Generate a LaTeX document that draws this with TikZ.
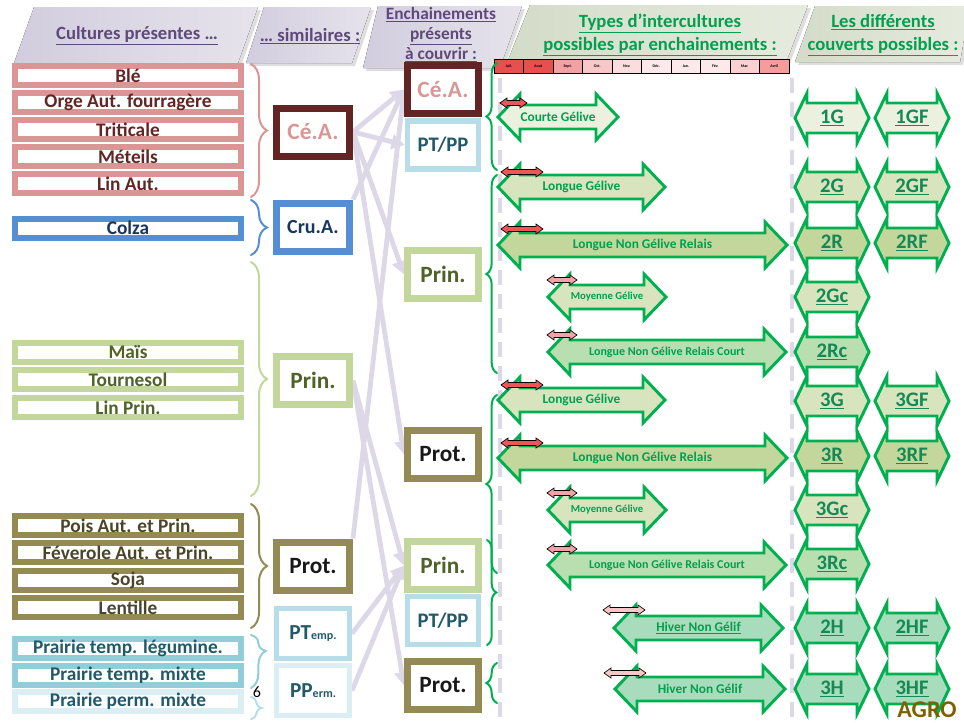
\documentclass[tikz,border=0pt]{standalone}
\usepackage{fontspec}
\setmainfont{Carlito}
\usetikzlibrary{arrows.meta}
\usetikzlibrary{decorations.pathreplacing}
\usetikzlibrary{calc}
\pgfdeclarelayer{flowbg}
\pgfsetlayers{flowbg,main}

\definecolor{cerealpink}{HTML}{D99694}
\definecolor{cerealbrown}{HTML}{632523}
\definecolor{colzablue}{HTML}{558ED5}
\definecolor{colzanavy}{HTML}{17375E}
\definecolor{prinlight}{HTML}{C3D69B}
\definecolor{prindark}{HTML}{4F6228}
\definecolor{protolive}{HTML}{948A54}
\definecolor{protdark}{HTML}{4A452A}
\definecolor{prairieA}{HTML}{92CDDC}
\definecolor{prairieB}{HTML}{B7DEE8}
\definecolor{prairieC}{HTML}{DBEEF4}
\definecolor{prairietext}{HTML}{215968}
\definecolor{titlepurple}{HTML}{5F497A}
\definecolor{titlegreen}{HTML}{00A050}
\definecolor{covgreen}{HTML}{138A55}
\definecolor{arrowgreen}{HTML}{00B050}
\definecolor{flowlav}{HTML}{DDD8E8}
\definecolor{tablavA}{HTML}{D2CDDE}
\definecolor{tablavB}{HTML}{E6E3EC}
\definecolor{tabgreenA}{HTML}{D3DCC8}
\definecolor{tabgreenB}{HTML}{E6EBDF}
\definecolor{agrogold}{HTML}{7F6000}
\definecolor{icA}{HTML}{EBF1DE}
\definecolor{icB}{HTML}{D7E4BD}
\definecolor{icC}{HTML}{C3D69B}
\definecolor{icD}{HTML}{B9DFB0}
\definecolor{icE}{HTML}{A9DCBC}
\definecolor{monRed}{HTML}{EE5555}
\definecolor{monPink}{HTML}{F3A3A3}
\definecolor{monLight}{HTML}{F7C6C6}
\definecolor{monA}{HTML}{E85050}
\definecolor{monB}{HTML}{F2A2A2}
\definecolor{monC}{HTML}{F8C8C8}
\definecolor{monD}{HTML}{FBDDDD}
\definecolor{monE}{HTML}{FDE9E9}
\definecolor{monF}{HTML}{FAD0D0}
\definecolor{monG}{HTML}{F59C9C}

\tikzset{
  cultbox/.style={draw, fill=white, line width=4.5pt, minimum width=169.5pt, minimum height=14.25pt, inner sep=0pt, font=\bfseries\fontsize{14.5}{14.5}\selectfont},
  simbox/.style={draw, fill=white, line width=5.25pt, minimum width=54.75pt, minimum height=36pt, inner sep=0pt, font=\bfseries\fontsize{17.5}{17.5}\selectfont},
  encbox/.style={draw, fill=white, line width=5.25pt, minimum width=53.25pt, minimum height=36pt, inner sep=0pt, font=\bfseries\fontsize{17.5}{17.5}\selectfont},
  tabshadow/.style={fill=black!13},
  lavtab/.style={left color=tablavA, right color=tablavB},
  greentab/.style={left color=tabgreenA, right color=tabgreenB},
  titletxt/.style={align=center, font=\bfseries\fontsize{14}{15}\selectfont},
  curly/.style={decorate, decoration={brace, amplitude=#1}, line width=1.5pt, line cap=round},
  flow/.style={draw=flowlav, line width=3.6pt, -{Triangle[length=10pt,width=11pt]}},
  dashsep/.style={draw=flowlav, line width=2.4pt, dash pattern=on 11pt off 7pt},
  icbody/.style={draw=arrowgreen, line width=2.2pt, line join=miter},
  ictext/.style={text=titlegreen, font=\bfseries\fontsize{10}{10}\selectfont, inner sep=0pt},
  covtext/.style={text=covgreen, font=\bfseries\fontsize{15.5}{15.5}\selectfont, inner sep=0pt},
  monbody/.style={draw=black, line width=0.5pt},
  moncell/.style={draw=black, line width=0.6pt, minimum width=22.125pt, minimum height=10.5pt, inner sep=0pt, font=\bfseries\fontsize{3}{3}\selectfont}
}

% interculture arrow: [style] name, left x, right x, y, fill, text
\newcommand{\icarrow}[7][]{%
  \path[icbody,fill=#6] (#3,#5) -- (#3+22,#5-23) -- (#3+22,#5-12) -- (#4-22,#5-12) -- (#4-22,#5-23) -- (#4,#5) -- (#4-22,#5+23) -- (#4-22,#5+12) -- (#3+22,#5+12) -- (#3+22,#5+23) -- cycle;
  \node[ictext,#1] (#2) at ({(#3+#4)/2},#5) {#7};}
% cover arrow: name, x, y, fill, text
\newcommand{\covarrow}[5]{%
  \path[icbody,fill=#4] (#2-37,#3) -- (#2-25,#3-25) -- (#2-25,#3-15) -- (#2+25,#3-15) -- (#2+25,#3-25) -- (#2+37,#3) -- (#2+25,#3+25) -- (#2+25,#3+15) -- (#2-25,#3+15) -- (#2-25,#3+25) -- cycle;
  \node[covtext] (#1) at (#2,#3) {\underline{#5}};}
% month arrow: left x, right x, y, fill
\newcommand{\monarrow}[4]{%
  \path[monbody,fill=#4] (#1,#3) -- (#1+7,#3-5) -- (#1+7,#3-2.5) -- (#2-7,#3-2.5) -- (#2-7,#3-5) -- (#2,#3) -- (#2-7,#3+5) -- (#2-7,#3+2.5) -- (#1+7,#3+2.5) -- (#1+7,#3+5) -- cycle;}

\begin{document}
\begin{tikzpicture}[x=0.75pt,y=-0.75pt]
\useasboundingbox (0,0) rectangle (964,722);

% Header tabs
\fill[tabshadow] (37,10) -- (261,10) -- (241,66) -- (17,66) -- cycle;
\fill[lavtab] (34,7) -- (258,7) -- (238,63) -- (14,63) -- cycle;
\fill[tabshadow] (267,10) -- (374,10) -- (355,66) -- (249,66) -- cycle;
\fill[lavtab] (264,7) -- (371,7) -- (352,63) -- (246,63) -- cycle;
\fill[tabshadow] (381,9) -- (525,9) -- (503,71) -- (366,71) -- cycle;
\fill[lavtab] (378,6) -- (522,6) -- (500,68) -- (363,68) -- cycle;
\fill[tabshadow] (533,8) -- (811,8) -- (790,63) -- (511,63) -- cycle;
\fill[greentab] (530,5) -- (808,5) -- (787,60) -- (508,60) -- cycle;
\fill[tabshadow] (818,9) -- (973,9) -- (963,65) -- (798,65) -- cycle;
\fill[greentab] (815,6) -- (970,6) -- (960,62) -- (795,62) -- cycle;

\node[titletxt, text=titlepurple] (tcult) at (137,36) {\underline{Cultures présentes …}};
\node[titletxt, text=titlepurple] (tsimil) at (310,36) {\underline{… similaires :}};
\node[titletxt, text=titlepurple, font=\bfseries\fontsize{13}{15}\selectfont] (tench) at (441,35) {\underline{Enchainements}\\\underline{présents}\\\underline{à couvrir :}};
\node[titletxt, text=titlegreen, font=\bfseries\fontsize{14}{17.5}\selectfont] (ttypes) at (660,35) {\underline{Types d’intercultures}\\\underline{possibles par enchainements :}};
\node[titletxt, text=titlegreen, font=\bfseries\fontsize{14}{17.5}\selectfont] (tcouv) at (883,35) {\underline{Les différents}\\\underline{couverts possibles :}};

% Months
\node[moncell, fill=monA] (mjuil) at (508.75,66) {Juil.};
\node[moncell, fill=monA] (maout) at (538.25,66) {Aout};
\node[moncell, fill=monB] (msept) at (567.75,66) {Sept.};
\node[moncell, fill=monC] (moct) at (597.25,66) {Oct.};
\node[moncell, fill=monD] (mnov) at (626.75,66) {Nov.};
\node[moncell, fill=monE] (mdec) at (656.25,66) {Déc.};
\node[moncell, fill=monE] (mjan) at (685.75,66) {Jan.};
\node[moncell, fill=monE] (mfev) at (715.25,66) {Fév.};
\node[moncell, fill=monF] (mmar) at (744.75,66) {Mar.};
\node[moncell, fill=monG] (mavr) at (774.25,66) {Avril};

% Separators
\draw[dashsep] (500,78) -- (500,720);
\draw[dashsep] (792,78) -- (792,720);

% Cultures
\node[cultbox, draw=cerealpink, text=cerealbrown] (ble) at (128,75.5) {Blé};
\node[cultbox, draw=cerealpink, text=cerealbrown] (orge) at (128,102.5) {Orge Aut. fourragère};
\node[cultbox, draw=cerealpink, text=cerealbrown] (triticale) at (128,129.5) {Triticale};
\node[cultbox, draw=cerealpink, text=cerealbrown] (meteils) at (128,156.5) {Méteils};
\node[cultbox, draw=cerealpink, text=cerealbrown] (linaut) at (128,183.5) {Lin Aut.};
\node[cultbox, draw=colzablue, text=colzanavy] (colza) at (128,228) {Colza};
\node[cultbox, draw=prinlight, text=prindark] (mais) at (128,352.5) {Maïs};
\node[cultbox, draw=prinlight, text=prindark] (tournesol) at (128,379.5) {Tournesol};
\node[cultbox, draw=prinlight, text=prindark] (linprin) at (128,407.5) {Lin Prin.};
\node[cultbox, draw=protolive, text=protdark] (pois) at (128,525.5) {Pois Aut. et Prin.};
\node[cultbox, draw=protolive, text=protdark] (feverole) at (128,552.5) {Féverole Aut. et Prin.};
\node[cultbox, draw=protolive, text=protdark] (soja) at (128,580) {Soja};
\node[cultbox, draw=protolive, text=protdark] (lentille) at (128,607.5) {Lentille};
\node[cultbox, draw=prairieA, text=prairietext] (prairieleg) at (128,648) {Prairie temp. légumine.};
\node[cultbox, draw=prairieA, text=prairietext] (prairietmp) at (128,675) {Prairie temp. mixte};
\node[cultbox, draw=prairieC, text=prairietext] (prairieperm) at (128,701) {Prairie perm. mixte};

% Braces to the similar groups
\draw[curly=12pt, cerealpink] (251,64) -- (251,197);
\draw[curly=12pt, colzablue] (251,200) -- (251,255);
\draw[curly=12pt, prinlight] (251,262) -- (251,496);
\draw[curly=12pt, protolive] (251,504) -- (251,628);
\draw[decorate, decoration={brace, amplitude=11pt, aspect=0.3}, line width=1.5pt, line cap=round, prairieA] (251,635) -- (251,688);
\draw[curly=8pt, prairieB] (251,697) -- (251,719);
\node[font=\fontsize{12}{12}\selectfont] (six) at (257,692) {6};

% Similar groups
\node[simbox, draw=cerealbrown, text=cerealpink] (ceaS) at (313,132) {Cé.A.};
\node[simbox, draw=colzablue, text=colzanavy, font=\bfseries\fontsize{15}{15}\selectfont] (cruS) at (313,227) {Cru.A.};
\node[simbox, draw=prinlight, text=prindark] (prinS) at (313,380.5) {Prin.};
\node[simbox, draw=protolive, text=black!90] (protS) at (313,566) {Prot.};
\node[simbox, draw=prairieB, line width=3.75pt, minimum height=37.5pt, text=prairietext, font=\bfseries\fontsize{16}{16}\selectfont] (ptS) at (313,633.5) {PT{\fontsize{9}{9}\selectfont emp.}};
\node[simbox, draw=prairieC, line width=3.75pt, minimum height=37.5pt, text=prairietext, font=\bfseries\fontsize{16}{16}\selectfont] (ppS) at (313,690.5) {PP{\fontsize{9}{9}\selectfont erm.}};

% Sequences to cover
\node[encbox, draw=cerealbrown, text=cerealpink] (ceaE) at (443,89.5) {Cé.A.};
\node[encbox, draw=prairieB, line width=4pt, text=prairietext, font=\bfseries\fontsize{15.5}{15.5}\selectfont] (ptppE) at (443,145) {PT/PP};
\node[encbox, draw=prinlight, text=prindark] (prinE) at (443,274.5) {Prin.};
\node[encbox, draw=protolive, text=black!90] (protE) at (443,454.5) {Prot.};
\node[encbox, draw=prinlight, text=prindark] (prinEE) at (443,565.5) {Prin.};
\node[encbox, draw=prairieB, line width=4pt, text=prairietext, font=\bfseries\fontsize{15.5}{15.5}\selectfont] (ptppEE) at (443,620.5) {PT/PP};
\node[encbox, draw=protolive, text=black!90] (protEE) at (443,685.5) {Prot.};

% Connections
\begin{pgfonlayer}{flowbg}
\draw[flow] (ceaS.east) -- (ceaE.west);
\draw[flow] (ceaS.east) -- (ptppE.west);
\draw[flow] (ceaS.east) -- (prinE.west);
\draw[flow] (ceaS.east) -- (protE.west);
\draw[flow] (cruS.north east) -- (ceaE.west);
\draw[flow] (protS.north east) -- (ceaE.west);
\draw[flow] (prinS.east) -- (prinEE.west);
\draw[flow] (prinS.east) -- (protEE.west);
\draw[flow] (ptS.east) -- (prinEE.west);
\draw[flow] (ppS.east) -- (prinEE.west);
\end{pgfonlayer}

% Braces to the intercultures
\draw[curly=8pt, arrowgreen] (497,170) -- (497,63);
\draw[curly=8pt, arrowgreen] (497,373) -- (497,175);
\draw[curly=8pt, arrowgreen] (497,573) -- (497,395);
\draw[curly=7pt, arrowgreen] (487,540) -- (487,645);
\draw[curly=8pt, arrowgreen] (497,703) -- (497,663);

% Intercultures
\icarrow{courte}{498}{618}{117}{icA}{Courte Gélive}
\icarrow{longueA}{498}{665}{187}{icB}{Longue Gélive}
\icarrow{relaisA}{498}{787}{245}{icC}{Longue Non Gélive Relais}
\icarrow[font=\bfseries\fontsize{8}{8}\selectfont]{moyenneA}{548}{666}{297}{icB}{Moyenne Gélive}
\icarrow[font=\bfseries\fontsize{9}{9}\selectfont]{relcourtA}{548}{786}{352}{icD}{Longue Non Gélive Relais Court}
\icarrow{longueB}{498}{665}{400}{icB}{Longue Gélive}
\icarrow{relaisB}{498}{787}{458}{icC}{Longue Non Gélive Relais}
\icarrow[font=\bfseries\fontsize{8}{8}\selectfont]{moyenneB}{548}{666}{510}{icB}{Moyenne Gélive}
\icarrow[font=\bfseries\fontsize{9}{9}\selectfont]{relcourtB}{548}{786}{565}{icD}{Longue Non Gélive Relais Court}
\icarrow{hiverA}{614}{783}{628}{icE}{\underline{Hiver Non Gélif}}
\icarrow{hiverB}{615}{785}{689}{icE}{Hiver Non Gélif}

% Month spans
\monarrow{500}{527}{103}{monRed}
\monarrow{501}{543}{172}{monRed}
\monarrow{501}{543}{229}{monRed}
\monarrow{547}{577}{280}{monPink}
\monarrow{547}{577}{335}{monPink}
\monarrow{501}{543}{385}{monRed}
\monarrow{501}{543}{443}{monRed}
\monarrow{547}{577}{493}{monPink}
\monarrow{547}{577}{549}{monPink}
\monarrow{603}{645}{610}{monLight}
\monarrow{604}{646}{673}{monLight}

% Covers
\covarrow{cov1G}{832}{118}{icA}{1G}
\covarrow{cov1GF}{912}{118}{icA}{1GF}
\covarrow{cov2G}{832}{187}{icB}{2G}
\covarrow{cov2GF}{912}{187}{icB}{2GF}
\covarrow{cov2R}{832}{243}{icC}{2R}
\covarrow{cov2RF}{912}{243}{icC}{2RF}
\covarrow{cov2Gc}{832}{297}{icB}{2Gc}
\covarrow{cov2Rc}{832}{352}{icD}{2Rc}
\covarrow{cov3G}{832}{401}{icB}{3G}
\covarrow{cov3GF}{912}{401}{icB}{3GF}
\covarrow{cov3R}{832}{456}{icC}{3R}
\covarrow{cov3RF}{912}{456}{icC}{3RF}
\covarrow{cov3Gc}{832}{510}{icB}{3Gc}
\covarrow{cov3Rc}{832}{564}{icD}{3Rc}
\covarrow{cov2H}{832}{628}{icE}{2H}
\covarrow{cov2HF}{912}{628}{icE}{2HF}
\covarrow{cov3H}{832}{689}{icE}{3H}
\covarrow{cov3HF}{912}{689}{icE}{3HF}

\node[anchor=base, inner sep=0pt, text=agrogold, font=\bfseries\fontsize{18}{18}\selectfont] (agro) at (927,717) {AGRO};
\end{tikzpicture}
\end{document}
